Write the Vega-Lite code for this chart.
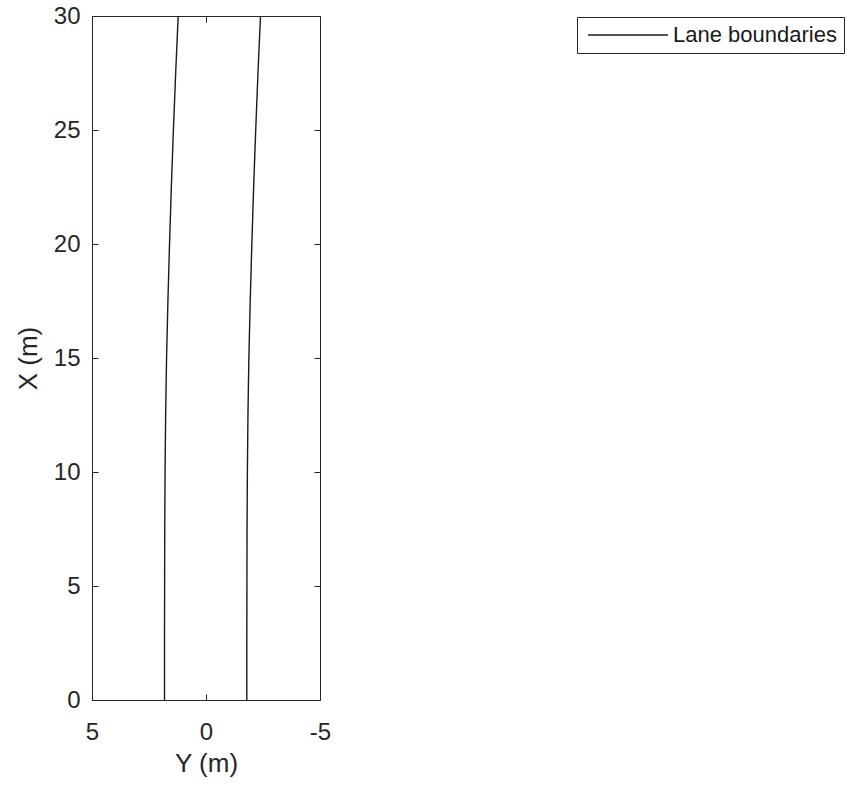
{
  "$schema": "https://vega.github.io/schema/vega-lite/v6.json",
  "width": 228,
  "height": 684,
  "autosize": {"type": "none"},
  "padding": {"left": 92, "top": 16, "right": 531, "bottom": 87},
  "background": "white",
  "config": {
    "font": "Liberation Sans",
    "view": {"stroke": "#262626", "strokeWidth": 1},
    "axis": {
      "grid": false,
      "domain": false,
      "tickColor": "#262626",
      "tickSize": -6,
      "labelFlush": false,
      "labelColor": "#262626",
      "titleColor": "#262626",
      "labelFont": "Liberation Sans",
      "titleFont": "Liberation Sans",
      "labelFontSize": 24,
      "titleFontSize": 26,
      "titleFontWeight": "normal"
    }
  },
  "data": {
    "values": [
      {"boundary": "left", "series": "Lane boundaries", "X": 0, "Y": 1.82},
      {"boundary": "left", "series": "Lane boundaries", "X": 2.5, "Y": 1.82},
      {"boundary": "left", "series": "Lane boundaries", "X": 5, "Y": 1.815},
      {"boundary": "left", "series": "Lane boundaries", "X": 7.5, "Y": 1.81},
      {"boundary": "left", "series": "Lane boundaries", "X": 10, "Y": 1.795},
      {"boundary": "left", "series": "Lane boundaries", "X": 12.5, "Y": 1.77},
      {"boundary": "left", "series": "Lane boundaries", "X": 15, "Y": 1.73},
      {"boundary": "left", "series": "Lane boundaries", "X": 17.5, "Y": 1.67},
      {"boundary": "left", "series": "Lane boundaries", "X": 20, "Y": 1.6},
      {"boundary": "left", "series": "Lane boundaries", "X": 22.5, "Y": 1.52},
      {"boundary": "left", "series": "Lane boundaries", "X": 25, "Y": 1.43},
      {"boundary": "left", "series": "Lane boundaries", "X": 27.5, "Y": 1.33},
      {"boundary": "left", "series": "Lane boundaries", "X": 30, "Y": 1.22},
      {"boundary": "right", "series": "Lane boundaries", "X": 0, "Y": -1.79},
      {"boundary": "right", "series": "Lane boundaries", "X": 2.5, "Y": -1.79},
      {"boundary": "right", "series": "Lane boundaries", "X": 5, "Y": -1.795},
      {"boundary": "right", "series": "Lane boundaries", "X": 7.5, "Y": -1.8},
      {"boundary": "right", "series": "Lane boundaries", "X": 10, "Y": -1.815},
      {"boundary": "right", "series": "Lane boundaries", "X": 12.5, "Y": -1.84},
      {"boundary": "right", "series": "Lane boundaries", "X": 15, "Y": -1.88},
      {"boundary": "right", "series": "Lane boundaries", "X": 17.5, "Y": -1.94},
      {"boundary": "right", "series": "Lane boundaries", "X": 20, "Y": -2.01},
      {"boundary": "right", "series": "Lane boundaries", "X": 22.5, "Y": -2.09},
      {"boundary": "right", "series": "Lane boundaries", "X": 25, "Y": -2.18},
      {"boundary": "right", "series": "Lane boundaries", "X": 27.5, "Y": -2.28},
      {"boundary": "right", "series": "Lane boundaries", "X": 30, "Y": -2.39}
    ]
  },
  "layer": [
    {
      "mark": {"type": "line", "strokeWidth": 1.4},
      "encoding": {
        "x": {
          "field": "Y",
          "type": "quantitative",
          "scale": {"domain": [5, -5], "nice": false, "zero": false},
          "axis": {
            "orient": "bottom",
            "values": [5, 0, -5],
            "labelExpr": "datum.value < 0 ? '-' + abs(datum.value) : datum.label",
            "title": "Y (m)",
            "labelPadding": 26,
            "titlePadding": 6
          }
        },
        "y": {
          "field": "X",
          "type": "quantitative",
          "scale": {"domain": [0, 30], "nice": false, "zero": false},
          "axis": {
            "orient": "left",
            "values": [0, 5, 10, 15, 20, 25, 30],
            "title": "X (m)",
            "labelPadding": 18,
            "titlePadding": 12
          }
        },
        "detail": {"field": "boundary"},
        "order": {"field": "X", "type": "quantitative"},
        "color": {
          "field": "series",
          "type": "nominal",
          "scale": {"range": ["#1a1a1a"]},
          "legend": {
            "orient": "none",
            "legendX": 485,
            "legendY": 1,
            "title": null,
            "strokeColor": "#262626",
            "fillColor": "white",
            "padding": 7,
            "labelFontSize": 22,
            "labelColor": "#1a1a1a",
            "labelLimit": 400,
            "labelOffset": 34,
            "symbolType": "M-4,0H4",
            "symbolSize": 400,
            "symbolOffset": 33,
            "symbolStrokeWidth": 1.4,
            "symbolStrokeColor": "#1a1a1a"
          }
        }
      }
    },
    {
      "mark": {"type": "line", "opacity": 0},
      "encoding": {
        "x": {
          "field": "Y",
          "type": "quantitative",
          "axis": {"orient": "top", "values": [5, 0, -5], "labels": false, "title": null}
        },
        "y": {
          "field": "X",
          "type": "quantitative",
          "axis": {"orient": "right", "values": [0, 5, 10, 15, 20, 25, 30], "labels": false, "title": null}
        },
        "detail": {"field": "boundary"},
        "order": {"field": "X", "type": "quantitative"}
      }
    }
  ],
  "resolve": {"axis": {"x": "independent", "y": "independent"}}
}
